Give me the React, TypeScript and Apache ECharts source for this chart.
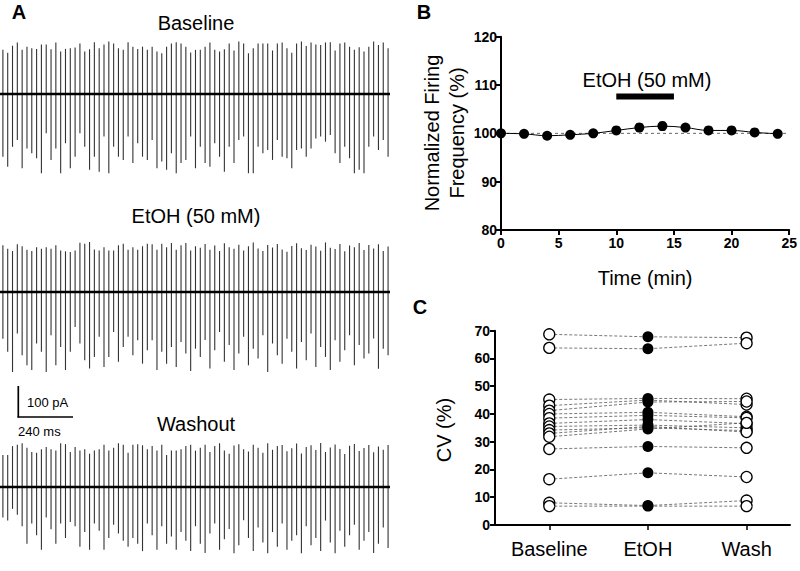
import React, { useEffect, useRef } from "react";
import * as echarts from "echarts";

// ---------- Panel A: spike amplitudes (pA), upward and downward deflections ----------
const baselineUp = [138,129,151,161,138,148,143,141,155,155,140,161,133,141,143,145,158,133,140,162,143,155,164,158,143,138,162,148,141,148,138,148,133,127,148,158,162,158,148,130,138,
  138,148,161,138,133,140,158,136,164,158,127,143,158,158,158,136,158,161,143,129,158,164,150,161,155,153,161,162,136,158,161,148,138,146,133,148,164,153,161,143];
const baselineDown = [196,227,165,144,232,170,185,201,248,123,206,170,248,154,232,196,123,165,237,196,243,133,248,165,196,206,133,216,154,196,206,144,232,211,237,185,248,216,206,133,232,
  165,216,227,154,196,243,165,216,144,133,248,248,165,185,175,206,144,196,201,232,175,170,196,170,139,133,149,128,185,216,165,201,248,237,248,165,133,175,144,196];
const etohUp = [146,135,128,149,143,132,128,140,135,140,135,146,130,127,125,130,154,151,156,133,130,140,130,130,146,151,132,140,132,143,151,149,132,151,140,153,132,146,153,130,143,
  138,150,132,145,128,152,140,135,148,130,143,155,136,128,147,139,150,133,126,144,152,137,131,148,142,129,155,138,134,150,127,145,140,153,131,147,136,149,128,142];
const etohDown = [146,187,250,130,198,229,244,161,187,250,135,229,172,244,187,109,161,213,239,203,140,234,203,125,218,172,140,198,151,224,182,151,244,187,224,172,234,156,192,247,177,
  203,150,239,182,125,218,166,244,192,140,229,177,208,135,250,161,198,224,146,187,239,156,213,130,234,172,203,244,151,218,182,135,229,166,208,192,145,240,177,198];
const washUp = [114,114,146,151,156,140,125,122,135,143,135,130,156,153,125,143,130,135,119,130,135,151,130,140,156,151,122,151,153,149,135,146,130,151,114,130,130,135,146,151,130,
  140,151,125,146,156,130,119,148,153,135,127,151,140,122,156,133,146,150,128,138,155,120,143,149,132,157,125,141,152,136,118,147,154,129,139,150,124,145,133,150];
const washDown = [109,120,78,99,140,203,130,172,224,109,151,203,130,182,125,140,213,161,224,130,156,224,182,135,166,192,213,182,203,229,130,172,224,140,203,177,224,161,192,229,140,
  203,236,166,130,224,187,150,237,208,119,182,229,145,198,237,161,213,130,224,192,172,237,140,208,182,229,120,198,237,156,213,172,135,224,192,161,236,203,145,218];
const traceTitles = ["Baseline", "EtOH (50 mM)", "Washout"];

// ---------- Panel B ----------
const timeMin = [0, 2, 4, 6, 8, 10, 12, 14, 16, 18, 20, 22, 24];
const freqMean = [100, 99.9, 99.5, 99.7, 100, 100.6, 101.2, 101.5, 101.2, 100.6, 100.6, 100.2, 99.9];
const freqSem = [0.2, 0.3, 0.4, 0.4, 0.4, 0.5, 0.8, 0.8, 0.6, 0.5, 0.5, 0.5, 0.6];
const etohWindow = [10, 15];
const etohLevel = 107.6;

// ---------- Panel C ----------
const cvCategories = ["Baseline", "EtOH", "Wash"];
const cvPositions = [0.55, 1.55, 2.55];
const cvBaseline = [68.7, 63.8, 45.2, 43.0, 41.2, 40.0, 38.5, 36.6, 35.5, 34.2, 33.0, 31.8, 27.4, 16.5, 8.0, 6.8];
const cvEtoh =     [67.8, 63.5, 45.6, 45.0, 44.3, 40.6, 39.5, 38.0, 36.0, 35.0, 35.5, 34.6, 28.3, 18.8, 7.0, 6.8];
const cvWash =     [67.5, 65.5, 45.5, 43.4, 44.5, 39.0, 38.6, 36.5, 35.0, 34.0, 33.5, 36.8, 27.8, 17.3, 8.8, 6.8];

const FONT = "'Liberation Sans', Arial, Helvetica, sans-serif";

function spikeData(up: number[], down: number[]) {
  return up.map((u, i) => [i, u, down[i]]);
}

function axisParts() {
  return {
    axisLine: { show: true, lineStyle: { color: "#000", width: 2 } },
    axisTick: { show: true, length: 5, lineStyle: { color: "#000", width: 2 } },
    splitLine: { show: false },
  };
}

function mainOption() {
  const traces = [
    spikeData(baselineUp, baselineDown),
    spikeData(etohUp, etohDown),
    spikeData(washUp, washDown),
  ];
  const traceTops = [30, 228, 431];
  const grids: any[] = traceTops.map((t) => ({ left: 0, top: t, width: 390, height: 160 }));
  grids.push({ left: 501, top: 36.7, width: 290.7, height: 193.3 });

  const xAxes: any[] = traceTops.map((_, i) => ({
    gridIndex: i, type: "value", min: -0.6, max: 80.4, show: false,
  }));
  const yAxes: any[] = traceTops.map((_, i) => ({
    gridIndex: i, type: "value", min: -300, max: 200, show: false,
  }));
  xAxes.push({
    gridIndex: 3, type: "value", min: 0, max: 25, interval: 5, position: "bottom", ...axisParts(),
    axisLabel: { color: "#000", fontWeight: "bold", fontSize: 14, fontFamily: FONT, margin: 6 },
    name: "Time (min)", nameLocation: "middle", nameGap: 38,
    nameTextStyle: { color: "#000", fontSize: 20, fontFamily: FONT },
  });
  yAxes.push({
    gridIndex: 3, type: "value", min: 80, max: 120, interval: 10, position: "left", ...axisParts(),
    axisLabel: { color: "#000", fontWeight: "bold", fontSize: 14, fontFamily: FONT, margin: 4 },
  });

  const series: any[] = [];
  traces.forEach((data, i) => {
    series.push({
      type: "custom", xAxisIndex: i, yAxisIndex: i, data,
      encode: { x: 0, y: [1, 2] },
      renderItem: (_p: any, api: any) => {
        const x = api.value(0);
        const a = api.coord([x, api.value(1)]);
        const b = api.coord([x, -api.value(2)]);
        return {
          type: "line",
          shape: { x1: a[0], y1: a[1], x2: b[0], y2: b[1] },
          style: { stroke: "#333", lineWidth: 1.1 },
        };
      },
      z: 2,
    });
    series.push({
      type: "line", xAxisIndex: i, yAxisIndex: i, symbol: "none",
      data: [[-0.6, 0], [80.4, 0]],
      lineStyle: { color: "#000", width: 2.6 }, z: 3,
    });
  });

  series.push({
    type: "line", xAxisIndex: 3, yAxisIndex: 3, symbol: "none",
    data: [[0, 100], [24.9, 100]],
    lineStyle: { color: "#666", width: 1, type: [3, 3] }, z: 1,
  });
  series.push({
    type: "custom", xAxisIndex: 3, yAxisIndex: 3,
    data: timeMin.map((t, i) => [t, freqMean[i] - freqSem[i], freqMean[i] + freqSem[i]]),
    encode: { x: 0, y: [1, 2] },
    renderItem: (_p: any, api: any) => {
      const lo = api.coord([api.value(0), api.value(1)]);
      const hi = api.coord([api.value(0), api.value(2)]);
      const w = 3;
      return {
        type: "group",
        children: [
          { type: "line", shape: { x1: lo[0], y1: lo[1], x2: hi[0], y2: hi[1] }, style: { stroke: "#000", lineWidth: 1.2 } },
          { type: "line", shape: { x1: lo[0] - w, y1: lo[1], x2: lo[0] + w, y2: lo[1] }, style: { stroke: "#000", lineWidth: 1.2 } },
          { type: "line", shape: { x1: hi[0] - w, y1: hi[1], x2: hi[0] + w, y2: hi[1] }, style: { stroke: "#000", lineWidth: 1.2 } },
        ],
      };
    },
    z: 2,
  });
  series.push({
    type: "line", xAxisIndex: 3, yAxisIndex: 3, smooth: 0.35,
    data: timeMin.map((t, i) => [t, freqMean[i]]),
    symbol: "circle", symbolSize: 10,
    itemStyle: { color: "#000", opacity: 1 }, lineStyle: { color: "#000", width: 1 }, z: 3,
  });
  series.push({
    type: "line", xAxisIndex: 3, yAxisIndex: 3, symbol: "none",
    data: etohWindow.map((t) => [t, etohLevel]),
    lineStyle: { color: "#000", width: 6, cap: "butt" }, z: 3,
  });

  const txt = (x: number, y: number, text: string, size: number, extra: any = {}) => ({
    type: "text", x, y, z: 10,
    style: { text, fill: "#000", fontSize: size, fontFamily: FONT, textAlign: "center", textVerticalAlign: "middle", ...extra },
  });
  const titleY = [23, 216, 424];
  const graphic: any[] = [
    txt(19, 12, "A", 20, { fontWeight: "bold" }),
    txt(424, 12, "B", 20, { fontWeight: "bold" }),
    txt(420, 307, "C", 20, { fontWeight: "bold" }),
    ...traceTitles.map((t, i) => txt(196, titleY[i], t, 20)),
    txt(647, 80, "EtOH (50 mM)", 20),
    {
      type: "text", x: 444.5, y: 133, rotation: Math.PI / 2, z: 10,
      style: { text: "Normalized Firing\nFrequency (%)", fill: "#000", fontSize: 20, lineHeight: 25, fontFamily: FONT, textAlign: "center", textVerticalAlign: "middle" },
    },
    {
      type: "text", x: 444, y: 430, rotation: Math.PI / 2, z: 10,
      style: { text: "CV (%)", fill: "#000", fontSize: 20, fontFamily: FONT, textAlign: "center", textVerticalAlign: "middle" },
    },
    { type: "line", shape: { x1: 18.3, y1: 386, x2: 18.3, y2: 417.5 }, style: { stroke: "#000", lineWidth: 1.7 } },
    { type: "line", shape: { x1: 17.5, y1: 417, x2: 73, y2: 417 }, style: { stroke: "#000", lineWidth: 1.7 } },
    txt(27, 402, "100 pA", 13, { textAlign: "left" }),
    txt(18, 431, "240 ms", 13, { textAlign: "left" }),
  ];

  return {
    animation: false,
    backgroundColor: "#fff",
    grid: grids,
    xAxis: xAxes,
    yAxis: yAxes,
    series,
    graphic,
  };
}

// Panel C lives in its own chart instance, placed at (460, 320) on the page
function panelCOption() {
  const series: any[] = [];
  cvBaseline.forEach((b, i) => {
    series.push({
      type: "line", symbol: "none",
      data: [[cvPositions[0], b], [cvPositions[1], cvEtoh[i]], [cvPositions[2], cvWash[i]]],
      lineStyle: { color: "#555", width: 0.8, type: [3, 2] }, z: 1,
    });
  });
  const openStyle = { color: "#fff", borderColor: "#000", borderWidth: 1.3, opacity: 1 };
  series.push({
    type: "scatter", symbolSize: 11,
    data: cvBaseline.map((v) => [cvPositions[0], v]), itemStyle: openStyle, z: 3,
  });
  series.push({
    type: "scatter", symbolSize: 11,
    data: cvEtoh.map((v) => [cvPositions[1], v]), itemStyle: { color: "#000", opacity: 1 }, z: 3,
  });
  series.push({
    type: "scatter", symbolSize: 11,
    data: cvWash.map((v) => [cvPositions[2], v]), itemStyle: openStyle, z: 3,
  });
  return {
    animation: false,
    backgroundColor: "transparent",
    grid: { left: 35, top: 10.7, width: 295, height: 194.3 },
    xAxis: {
      type: "value", min: 0, max: 2.99,
      axisLine: { show: true, lineStyle: { color: "#000", width: 2 } },
      axisTick: { show: true, length: 5, customValues: cvPositions, lineStyle: { color: "#000", width: 1.5 } },
      axisLabel: {
        customValues: cvPositions, color: "#000", fontSize: 20, fontFamily: FONT, margin: 14,
        formatter: (v: number) => cvCategories[Math.round(v - 0.55)] ?? "",
      },
      splitLine: { show: false },
    },
    yAxis: {
      type: "value", min: 0, max: 70, interval: 10,
      axisLine: { show: true, lineStyle: { color: "#000", width: 2 } },
      axisTick: { show: true, length: 5, lineStyle: { color: "#000", width: 2 } },
      axisLabel: { color: "#000", fontWeight: "bold", fontSize: 14, fontFamily: FONT, margin: 5 },
      splitLine: { show: false },
    },
    series,
  };
}

export default function App() {
  const mainRef = useRef<HTMLDivElement>(null);
  const cRef = useRef<HTMLDivElement>(null);
  useEffect(() => {
    if (!mainRef.current || !cRef.current) return;
    const main = echarts.init(mainRef.current, undefined, { renderer: "svg" });
    main.setOption(mainOption());
    const pc = echarts.init(cRef.current, undefined, { renderer: "svg" });
    pc.setOption(panelCOption());
    return () => {
      main.dispose();
      pc.dispose();
    };
  }, []);
  return (
    <div style={{ position: "absolute", left: 0, top: 0, width: 800, height: 571 }}>
      <div ref={mainRef} style={{ position: "absolute", left: 0, top: 0, width: 800, height: 571 }} />
      <div ref={cRef} style={{ position: "absolute", left: 460, top: 320, width: 340, height: 251 }} />
    </div>
  );
}
